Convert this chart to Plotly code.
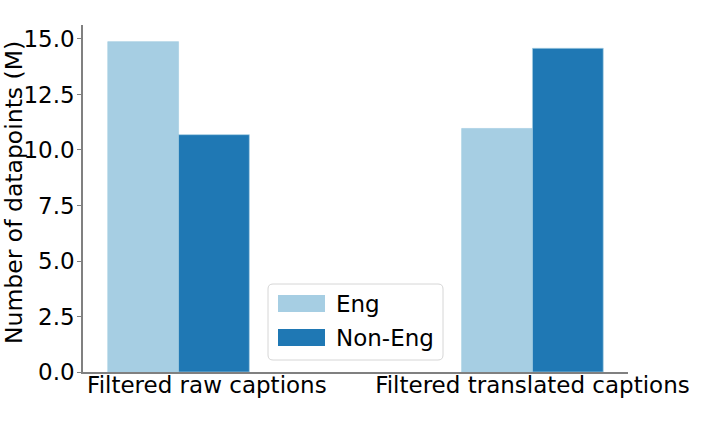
import plotly.graph_objects as go

groups = ['Filtered raw captions', 'Filtered translated captions']
series = ['Eng', 'Non-Eng']
eng = [14.88, 10.97]
non_eng = [10.69, 14.58]
colors = ['#a6cee3', '#1f78b4']

# plot area in pixels: x 83..628, y 25..372
def px(x):
    return (x - 83) / 545

def py(y):
    return (372 - y) / 347

fig = go.Figure()
for name, vals, col in zip(series, [eng, non_eng], colors):
    fig.add_trace(go.Bar(x=[0, 1], y=vals, name=name, marker_color=col,
                         marker_line=dict(color='rgba(166,206,227,0.7)', width=1),
                         showlegend=False))

# legend drawn by hand so the patches look like matplotlib's
x0, x1, y0, y1, r = px(268), px(443), py(360), py(284), 5 / 545
ry = 5 / 347
box = (f'M {x0 + r},{y0} L {x1 - r},{y0} Q {x1},{y0} {x1},{y0 + ry} '
       f'L {x1},{y1 - ry} Q {x1},{y1} {x1 - r},{y1} '
       f'L {x0 + r},{y1} Q {x0},{y1} {x0},{y1 - ry} '
       f'L {x0},{y0 + ry} Q {x0},{y0} {x0 + r},{y0} Z')
shapes = [dict(type='path', path=box, xref='paper', yref='paper',
               fillcolor='white', line=dict(color='#d6d6d6', width=1), layer='above')]
annotations = []
for i, (name, col) in enumerate(zip(series, colors)):
    top = 295 + i * 34
    shapes.append(dict(type='rect', xref='paper', yref='paper',
                       x0=px(278), x1=px(325), y0=py(top + 17), y1=py(top),
                       fillcolor=col, line=dict(width=0), layer='above'))
    annotations.append(dict(text=name, xref='paper', yref='paper',
                            x=px(334), y=py(top + 8.5), xanchor='left', yanchor='middle',
                            showarrow=False, font=dict(size=23)))

annotations.append(dict(text='Number of datapoints (M)', xref='paper', yref='paper',
                        x=px(14), y=py(193), xanchor='center', yanchor='middle',
                        textangle=-90, showarrow=False, borderpad=0,
                        font=dict(size=23.5)))

fig.update_layout({
    'width': 718,
    'height': 422,
    'margin': {'t': 25, 'b': 50, 'l': 83, 'r': 90},
    'plot_bgcolor': 'white',
    'paper_bgcolor': 'white',
    'barmode': 'group',
    'bargap': 0.6,
    'bargroupgap': 0,
    'font': {'family': 'DejaVu Sans', 'size': 23, 'color': 'black'},
    'shapes': shapes,
    'annotations': annotations,
})
fig.update_xaxes(range=[-0.27, 1.27], tickvals=[0.08, 1.0], ticktext=groups,
                 showline=True, linewidth=1.5, linecolor='#808080',
                 showgrid=False, zeroline=False, ticks='', automargin=False,
                 ticklabelstandoff=-8)
fig.update_yaxes(range=[0, 15.63], tickvals=[0, 2.5, 5, 7.5, 10, 12.5, 15],
                 tickformat='.1f', showline=True, linewidth=1.5, linecolor='#808080',
                 ticks='outside', ticklen=4, tickcolor='#808080',
                 showgrid=False, zeroline=False, automargin=False,
                 ticklabelstandoff=-2)

# drop the page's default body margin so the figure sits at the window's corner
fig.write_html("out.html", config={'displayModeBar': False},
               post_script="document.body.style.margin = '0';")
